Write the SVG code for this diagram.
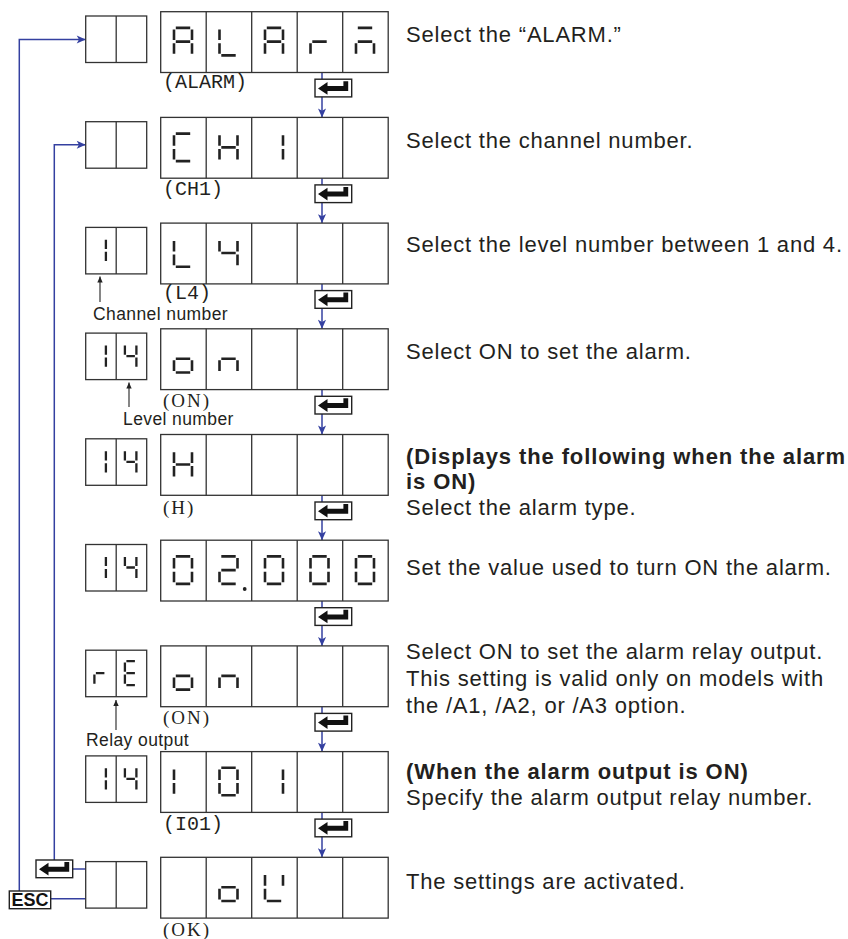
<svg xmlns="http://www.w3.org/2000/svg" width="848" height="939" viewBox="0 0 848 939">
<style>
.bx{fill:#fff;stroke:#333;stroke-width:1.3}
.dv{stroke:#333;stroke-width:1.3}
.sb{fill:none;stroke:#222;stroke-width:2.6}
.ss{fill:none;stroke:#222;stroke-width:2.3}
.blue{fill:none;stroke:#3440a0;stroke-width:1.5}
.blk{fill:none;stroke:#222;stroke-width:1.1}
.t{font-family:"Liberation Sans",Arial,sans-serif;font-size:22px;letter-spacing:0.8px;fill:#231f20}
.tb{font-weight:bold;letter-spacing:0.9px}
.m{font-family:"Liberation Mono","Courier New",monospace;font-size:20px;fill:#231f20}
.s{font-family:"Liberation Serif","Times New Roman",serif;font-size:19px;letter-spacing:2px;fill:#231f20}
.sm{font-family:"Liberation Sans",Arial,sans-serif;font-size:17.5px;letter-spacing:0.4px;fill:#231f20}
</style>
<defs>
<marker id="ab" viewBox="0 0 10 10" refX="10" refY="5" markerWidth="10" markerHeight="9" orient="auto" markerUnits="userSpaceOnUse"><path d="M0,0.5L10,5L0,9.5L2.5,5Z" fill="#3440a0"/></marker>
<marker id="ak" viewBox="0 0 10 10" refX="10" refY="5" markerWidth="8" markerHeight="6" orient="auto" markerUnits="userSpaceOnUse"><path d="M0,0.5L10,5L0,9.5Z" fill="#222"/></marker>
<!-- big 7-seg glyphs: W=18 H=27.5 -->
<g id="bA" class="sb"><path d="M1.8,0H16.2M18,1.6V12.2M18,15.3V25.9M0,15.3V25.9M0,1.6V12.2M1.8,13.75H16.2"/></g>
<g id="bL" class="sb"><path d="M0,1.6V12.2M0,15.3V25.9M1.8,27.5H16.2"/></g>
<g id="br" class="sb"><path d="M0,15.3V25.9M1.8,13.75H16.2"/></g>
<g id="bm" class="sb"><path d="M1.8,0H16.2M1.8,13.75H16.2M0,15.3V25.9M18,15.3V25.9"/></g>
<g id="bC" class="sb"><path d="M1.8,0H16.2M0,1.6V12.2M0,15.3V25.9M1.8,27.5H16.2"/></g>
<g id="bH" class="sb"><path d="M0,1.6V12.2M0,15.3V25.9M18,1.6V12.2M18,15.3V25.9M1.8,13.75H16.2"/></g>
<g id="b1" class="sb"><path d="M18,1.6V12.2M18,15.3V25.9"/></g>
<g id="bI" class="sb"><path d="M0,1.6V12.2M0,15.3V25.9"/></g>
<g id="b4" class="sb"><path d="M0,1.6V12.2M1.8,13.75H16.2M18,1.6V12.2M18,15.3V25.9"/></g>
<g id="bo" class="sb"><path d="M1.8,13.75H16.2M0,15.3V25.9M18,15.3V25.9M1.8,27.5H16.2"/></g>
<g id="bn" class="sb"><path d="M1.8,13.75H16.2M0,15.3V25.9M18,15.3V25.9"/></g>
<g id="b0" class="sb"><path d="M1.8,0H16.2M18,1.6V12.2M18,15.3V25.9M1.8,27.5H16.2M0,15.3V25.9M0,1.6V12.2"/></g>
<g id="b2" class="sb"><path d="M1.8,0H16.2M18,1.6V12.2M1.8,13.75H16.2M0,15.3V25.9M1.8,27.5H16.2"/></g>
<g id="bK" class="sb"><path d="M0,1.6V12.2M0,15.3V25.9M1.8,27.5H16.2M18,1.6V12.2"/></g>
<!-- small 7-seg glyphs: W=11.5 H=24 -->
<g id="s1" class="ss"><path d="M11.5,1.4V10.6M11.5,13.4V22.6"/></g>
<g id="s4" class="ss"><path d="M0,1.4V10.6M1.5,12H10M11.5,1.4V10.6M11.5,13.4V22.6"/></g>
<g id="sr" class="ss"><path d="M0,13.4V22.6M1.5,12H10"/></g>
<g id="sE" class="ss"><path d="M1.5,0H10M0,1.4V10.6M1.5,12H10M0,13.4V22.6M1.5,24H10"/></g>
<!-- enter key -->
<g id="key"><rect width="36.7" height="17.7" fill="#fff" stroke="#222" stroke-width="1.4"/><path d="M3,9.2L12.5,2.8V6.7H28.4V2H33.2V11.7H12.5V15.6Z" fill="#111"/></g>
<!-- displays -->
<g id="big"><rect class="bx" width="227.5" height="60.8"/><path class="dv" d="M45.5,0V60.8M91,0V60.8M136.5,0V60.8M182,0V60.8"/></g>
<g id="small"><rect class="bx" width="61" height="46.5"/><path class="dv" d="M30.5,0V46.5"/></g>
</defs>

<g id="connectors">
<path class="blue" d="M322,72.5V117.4" marker-end="url(#ab)"/>
<path class="blue" d="M322,178.2V223.1" marker-end="url(#ab)"/>
<path class="blue" d="M322,283.9V328.8" marker-end="url(#ab)"/>
<path class="blue" d="M322,389.6V434.5" marker-end="url(#ab)"/>
<path class="blue" d="M322,495.3V540.2" marker-end="url(#ab)"/>
<path class="blue" d="M322,601V645.9" marker-end="url(#ab)"/>
<path class="blue" d="M322,706.7V751.6" marker-end="url(#ab)"/>
<path class="blue" d="M322,812.4V857.3" marker-end="url(#ab)"/>
<path class="blue" d="M19.3,891V39.5H85.7" marker-end="url(#ab)"/>
<path class="blue" d="M54.3,860V144.8H85.7" marker-end="url(#ab)"/>
<path class="blue" d="M72.7,869H85.7"/>
<path class="blue" d="M50.7,898.7H85.7"/>
<path class="blk" d="M100,302V276.5" marker-end="url(#ak)"/>
<path class="blk" d="M129,407V382.5" marker-end="url(#ak)"/>
<path class="blk" d="M116,730V700" marker-end="url(#ak)"/>
</g>

<g id="row1">
<use href="#small" x="85.7" y="16"/>
<use href="#big" x="160.7" y="11.7"/>
<use href="#bA" x="174" y="27.9"/><use href="#bL" x="219.5" y="27.9"/><use href="#bA" x="265" y="27.9"/><use href="#br" x="310.5" y="27.9"/><use href="#bm" x="356" y="27.9"/>
<text class="m" x="163" y="87.5">(ALARM)</text>
<use href="#key" x="315" y="79.2"/>
<text class="t" x="406" y="41.7">Select the “ALARM.”</text>
</g>

<g id="row2">
<use href="#small" x="85.7" y="121.7"/>
<use href="#big" x="160.7" y="117.4"/>
<use href="#bC" x="174" y="133.6"/><use href="#bH" x="219.5" y="133.6"/><use href="#b1" x="265" y="133.6"/>
<text class="m" x="163" y="195">(CH1)</text>
<use href="#key" x="315" y="184.9"/>
<text class="t" x="406" y="147.7">Select the channel number.</text>
</g>

<g id="row3">
<use href="#small" x="85.7" y="227.4"/>
<use href="#s1" x="94.4" y="238.4"/>
<use href="#big" x="160.7" y="223.1"/>
<use href="#bL" x="174" y="239.3"/><use href="#b4" x="219.5" y="239.3"/>
<text class="m" x="163" y="299">(L4)</text>
<use href="#key" x="315" y="290.6"/>
<text class="sm" x="93" y="319.5">Channel number</text>
<text class="t" x="406" y="252.3">Select the level number between 1 and 4.</text>
</g>

<g id="row4">
<use href="#small" x="85.7" y="333.1"/>
<use href="#s1" x="94.4" y="344.1"/><use href="#s4" x="124.9" y="344.1"/>
<use href="#big" x="160.7" y="328.8"/>
<use href="#bo" x="174" y="345"/><use href="#bn" x="219.5" y="345"/>
<text class="s" x="163" y="406.5">(ON)</text>
<use href="#key" x="315" y="396.3"/>
<text class="sm" x="123" y="424.5">Level number</text>
<text class="t" x="406" y="358.5">Select ON to set the alarm.</text>
</g>

<g id="row5">
<use href="#small" x="85.7" y="438.8"/>
<use href="#s1" x="94.4" y="449.8"/><use href="#s4" x="124.9" y="449.8"/>
<use href="#big" x="160.7" y="434.5"/>
<use href="#bH" x="174" y="450.7"/>
<text class="s" x="163" y="514">(H)</text>
<use href="#key" x="315" y="502"/>
<text class="t tb" x="406" y="463.5">(Displays the following when the alarm</text>
<text class="t tb" x="406" y="489">is ON)</text>
<text class="t" x="406" y="514.5">Select the alarm type.</text>
</g>

<g id="row6">
<use href="#small" x="85.7" y="544.5"/>
<use href="#s1" x="94.4" y="555.5"/><use href="#s4" x="124.9" y="555.5"/>
<use href="#big" x="160.7" y="540.2"/>
<use href="#b0" x="174" y="556.4"/><use href="#b2" x="219.5" y="556.4"/><use href="#b0" x="265" y="556.4"/><use href="#b0" x="310.5" y="556.4"/><use href="#b0" x="356" y="556.4"/>
<circle cx="244.7" cy="589" r="1.9" fill="#222"/>
<use href="#key" x="315" y="607.7"/>
<text class="t" x="406" y="574.5">Set the value used to turn ON the alarm.</text>
</g>

<g id="row7">
<use href="#small" x="85.7" y="650.2"/>
<use href="#sr" x="94.4" y="661.2"/><use href="#sE" x="124.9" y="661.2"/>
<use href="#big" x="160.7" y="645.9"/>
<use href="#bo" x="174" y="662.1"/><use href="#bn" x="219.5" y="662.1"/>
<text class="s" x="163" y="724">(ON)</text>
<use href="#key" x="315" y="713.4"/>
<text class="sm" x="86" y="746">Relay output</text>
<text class="t" x="406" y="658.5">Select ON to set the alarm relay output.</text>
<text class="t" x="406" y="686">This setting is valid only on models with</text>
<text class="t" x="406" y="713">the /A1, /A2, or /A3 option.</text>
</g>

<g id="row8">
<use href="#small" x="85.7" y="755.9"/>
<use href="#s1" x="94.4" y="766.9"/><use href="#s4" x="124.9" y="766.9"/>
<use href="#big" x="160.7" y="751.6"/>
<use href="#bI" x="174" y="767.8"/><use href="#b0" x="219.5" y="767.8"/><use href="#b1" x="265" y="767.8"/>
<text class="m" x="163" y="830">(I01)</text>
<use href="#key" x="315" y="819.1"/>
<text class="t tb" x="406" y="778.5">(When the alarm output is ON)</text>
<text class="t" x="406" y="804.5">Specify the alarm output relay number.</text>
</g>

<g id="row9">
<use href="#key" x="36" y="860"/>
<g id="esc"><rect x="9.3" y="891" width="41.4" height="17.7" fill="#fff" stroke="#222" stroke-width="1.4"/><text x="30" y="906.3" text-anchor="middle" font-family="Liberation Sans,Arial,sans-serif" font-weight="bold" font-size="18" fill="#111">ESC</text></g>
<use href="#small" x="85.7" y="861.6"/>
<use href="#big" x="160.7" y="857.3"/>
<use href="#bo" x="219.5" y="873.5"/><use href="#bK" x="265" y="873.5"/>
<text class="s" x="163" y="935.5">(OK)</text>
<text class="t" x="406" y="888.5">The settings are activated.</text>
</g>
</svg>
